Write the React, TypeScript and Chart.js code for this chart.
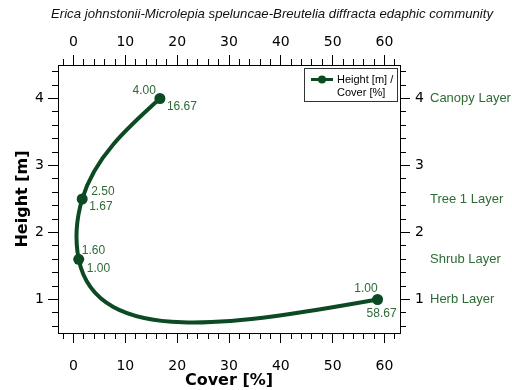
import { useEffect, useRef } from "react";
import { Chart, registerables } from "chart.js";

Chart.register(...registerables);

// ---- data ----
const TITLE =
  "Erica johnstonii-Microlepia speluncae-Breutelia diffracta edaphic community";
const SERIES_LABEL = ["Height [m] /", "Cover [%]"];
const cover = [16.67, 1.67, 1.0, 58.67];
const height = [4.0, 2.5, 1.6, 1.0];
const layers = ["Canopy Layer", "Tree 1 Layer", "Shrub Layer", "Herb Layer"];
const xTicks = [0, 10, 20, 30, 40, 50, 60];
const yTicks = [1, 2, 3, 4];

// ---- axis ranges ----
const X_MIN = -3;
const X_MAX = 63;
const Y_MIN = 0.5;
const Y_MAX = 4.5;
const X_MINOR = 2;
const Y_MINOR = 0.2;

// ---- style ----
const LINE_COLOR = "#0b4a22";
const LABEL_COLOR = "#2e6b36";
const AXIS_COLOR = "#000";
const SANS = "'DejaVu Sans', sans-serif";
const ARIAL = "'Liberation Sans', Arial, sans-serif";
const MAJOR_LEN = 10;
const MINOR_LEN = 6;

// where each point's height / cover annotation sits relative to the marker
const labelPlacement = [
  { h: { dx: -4, dy: -8, align: "right" }, c: { dx: 7, dy: 8, align: "left" } },
  { h: { dx: 9, dy: -7, align: "left" }, c: { dx: 7, dy: 8, align: "left" } },
  { h: { dx: 3, dy: -9, align: "left" }, c: { dx: 8, dy: 9, align: "left" } },
  { h: { dx: 0, dy: -11, align: "right" }, c: { dx: 4, dy: 14, align: "center" } },
];

// second derivatives of a natural cubic spline over knots with spacing h
function naturalSecondDerivs(t: number[], h: number[]): number[] {
  const n = t.length;
  const M = new Array(n).fill(0);
  if (n < 3) return M;
  const a: number[] = [];
  const b: number[] = [];
  const c: number[] = [];
  const d: number[] = [];
  for (let i = 1; i <= n - 2; i++) {
    a.push(h[i - 1]);
    b.push(2 * (h[i - 1] + h[i]));
    c.push(h[i]);
    d.push(6 * ((t[i + 1] - t[i]) / h[i] - (t[i] - t[i - 1]) / h[i - 1]));
  }
  const m = a.length;
  for (let i = 1; i < m; i++) {
    const w = a[i] / b[i - 1];
    b[i] -= w * c[i - 1];
    d[i] -= w * d[i - 1];
  }
  const sol = new Array(m);
  sol[m - 1] = d[m - 1] / b[m - 1];
  for (let i = m - 2; i >= 0; i--) sol[i] = (d[i] - c[i] * sol[i + 1]) / b[i];
  for (let i = 0; i < m; i++) M[i + 1] = sol[i];
  return M;
}

function knotDerivs(t: number[], h: number[], M: number[]): number[] {
  const n = t.length;
  const D: number[] = [];
  for (let i = 0; i < n; i++) {
    if (i < n - 1) {
      D.push((t[i + 1] - t[i]) / h[i] - (h[i] * (2 * M[i] + M[i + 1])) / 6);
    } else {
      D.push((t[i] - t[i - 1]) / h[i - 1] + (h[i - 1] * (M[i - 1] + 2 * M[i])) / 6);
    }
  }
  return D;
}

// Parametric natural spline (chord-length parameter, pixel space) written into
// the bezier control points that the line element strokes.
const naturalSpline = {
  id: "naturalSpline",
  beforeDatasetDraw(chart: any, args: any) {
    const meta = args.meta;
    const line = meta.dataset;
    const pts = meta.data;
    if (!line || !pts || pts.length < 3) return;
    if (typeof line.updateControlPoints === "function") {
      line.updateControlPoints(chart.chartArea, meta.iScale ? meta.iScale.axis : "x");
    }
    const xs = pts.map((p: any) => p.x);
    const ys = pts.map((p: any) => p.y);
    const h: number[] = [];
    for (let i = 0; i < pts.length - 1; i++) {
      h.push(Math.max(1e-6, Math.hypot(xs[i + 1] - xs[i], ys[i + 1] - ys[i])));
    }
    const Dx = knotDerivs(xs, h, naturalSecondDerivs(xs, h));
    const Dy = knotDerivs(ys, h, naturalSecondDerivs(ys, h));
    for (let i = 0; i < pts.length; i++) {
      const p = pts[i];
      const hb = i > 0 ? h[i - 1] : 0;
      const ha = i < pts.length - 1 ? h[i] : 0;
      p.cp1x = xs[i] - (Dx[i] * hb) / 3;
      p.cp1y = ys[i] - (Dy[i] * hb) / 3;
      p.cp2x = xs[i] + (Dx[i] * ha) / 3;
      p.cp2y = ys[i] + (Dy[i] * ha) / 3;
    }
  },
};

const minorTicks = {
  id: "minorTicks",
  afterDraw(chart: any) {
    const { ctx, chartArea, scales } = chart;
    const align = (v: number) => Math.floor(v) + 0.5;
    ctx.save();
    ctx.strokeStyle = AXIS_COLOR;
    ctx.lineWidth = 1;
    ctx.beginPath();
    for (let k = Math.ceil(X_MIN / X_MINOR); k * X_MINOR <= X_MAX + 1e-9; k++) {
      const v = k * X_MINOR;
      if (xTicks.some((t) => Math.abs(t - v) < 1e-6)) continue;
      const px = align(scales.x.getPixelForValue(v));
      ctx.moveTo(px, chartArea.bottom);
      ctx.lineTo(px, chartArea.bottom + MINOR_LEN);
      ctx.moveTo(px, chartArea.top);
      ctx.lineTo(px, chartArea.top - MINOR_LEN);
    }
    for (let k = Math.ceil(Y_MIN / Y_MINOR - 1e-9); k * Y_MINOR <= Y_MAX + 1e-9; k++) {
      const v = k * Y_MINOR;
      if (yTicks.some((t) => Math.abs(t - v) < 1e-6)) continue;
      const py = align(scales.y.getPixelForValue(v));
      ctx.moveTo(chartArea.left, py);
      ctx.lineTo(chartArea.left - MINOR_LEN, py);
      ctx.moveTo(chartArea.right, py);
      ctx.lineTo(chartArea.right + MINOR_LEN, py);
    }
    ctx.stroke();
    ctx.restore();
  },
};

const valueLabels = {
  id: "valueLabels",
  afterDatasetsDraw(chart: any) {
    const { ctx } = chart;
    const meta = chart.getDatasetMeta(0);
    ctx.save();
    ctx.font = `12px ${ARIAL}`;
    ctx.fillStyle = LABEL_COLOR;
    ctx.textBaseline = "middle";
    meta.data.forEach((pt: any, i: number) => {
      const place = labelPlacement[i];
      ctx.textAlign = place.h.align;
      ctx.fillText(height[i].toFixed(2), pt.x + place.h.dx, pt.y + place.h.dy);
      ctx.textAlign = place.c.align;
      ctx.fillText(cover[i].toFixed(2), pt.x + place.c.dx, pt.y + place.c.dy);
    });
    ctx.restore();
  },
};

const legendBox = {
  id: "legendBox",
  afterDraw(chart: any) {
    const { ctx, chartArea } = chart;
    const w = 93;
    const h = 33;
    const x = Math.round(chartArea.right) - 3 - w;
    const y = Math.round(chartArea.top) + 3;
    ctx.save();
    ctx.fillStyle = "#fff";
    ctx.fillRect(x, y, w, h);
    ctx.strokeStyle = "#333";
    ctx.lineWidth = 1;
    ctx.strokeRect(x + 0.5, y + 0.5, w, h);
    const ly = y + 11.5;
    ctx.strokeStyle = LINE_COLOR;
    ctx.lineWidth = 3;
    ctx.beginPath();
    ctx.moveTo(x + 7, ly);
    ctx.lineTo(x + 29, ly);
    ctx.stroke();
    ctx.fillStyle = LINE_COLOR;
    ctx.beginPath();
    ctx.arc(x + 18, ly, 4, 0, Math.PI * 2);
    ctx.fill();
    ctx.fillStyle = "#000";
    ctx.font = `11px ${ARIAL}`;
    ctx.textAlign = "left";
    ctx.textBaseline = "middle";
    SERIES_LABEL.forEach((s, i) => ctx.fillText(s, x + 33, ly + i * 13.5));
    ctx.restore();
  },
};

const titleText = {
  id: "titleText",
  afterDraw(chart: any) {
    const { ctx } = chart;
    ctx.save();
    ctx.font = `italic 13.2px ${ARIAL}`;
    ctx.fillStyle = "#111";
    ctx.textAlign = "center";
    ctx.textBaseline = "middle";
    ctx.fillText(TITLE, 272, 14);
    ctx.restore();
  },
};

const tickFont = { family: SANS, size: 14 };
const gridOpts = {
  drawOnChartArea: false,
  tickLength: MAJOR_LEN,
  color: AXIS_COLOR,
  tickColor: AXIS_COLOR,
};
const borderOpts = { color: AXIS_COLOR, width: 1 };

export default function App() {
  const ref = useRef<HTMLCanvasElement>(null);

  useEffect(() => {
    const canvas = ref.current;
    if (!canvas) return;
    const chart = new Chart(canvas, {
      type: "line",
      data: {
        datasets: [
          {
            label: SERIES_LABEL.join(" "),
            data: cover.map((c, i) => ({ x: c, y: height[i] })),
            borderColor: LINE_COLOR,
            backgroundColor: LINE_COLOR,
            borderWidth: 4,
            tension: 0.4,
            pointRadius: 5.5,
            pointHoverRadius: 5.5,
            pointBackgroundColor: LINE_COLOR,
            pointBorderWidth: 0,
            fill: false,
          },
        ],
      },
      options: {
        responsive: false,
        animation: false,
        events: [],
        layout: { padding: 0 },
        plugins: {
          legend: { display: false },
          title: { display: false },
          tooltip: { enabled: false },
        },
        scales: {
          x: {
            type: "linear",
            position: "bottom",
            min: X_MIN,
            max: X_MAX,
            afterBuildTicks: (s: any) => {
              s.ticks = xTicks.map((v) => ({ value: v }));
            },
            afterFit: (s: any) => {
              s.height = 57;
            },
            ticks: { font: tickFont, color: AXIS_COLOR, padding: 15, maxRotation: 0, autoSkip: false },
            grid: gridOpts,
            border: borderOpts,
            title: {
              display: true,
              text: "Cover [%]",
              color: AXIS_COLOR,
              font: { family: SANS, size: 16, weight: "bold" },
              padding: { top: 0, bottom: 0 },
            },
          },
          x2: {
            type: "linear",
            position: "top",
            min: X_MIN,
            max: X_MAX,
            afterBuildTicks: (s: any) => {
              s.ticks = xTicks.map((v) => ({ value: v }));
            },
            afterFit: (s: any) => {
              s.height = 65;
            },
            ticks: { font: tickFont, color: AXIS_COLOR, padding: 4, maxRotation: 0, autoSkip: false },
            grid: gridOpts,
            border: borderOpts,
          },
          y: {
            type: "linear",
            position: "left",
            min: Y_MIN,
            max: Y_MAX,
            afterBuildTicks: (s: any) => {
              s.ticks = yTicks.map((v) => ({ value: v }));
            },
            afterFit: (s: any) => {
              s.width = 58;
            },
            ticks: { font: tickFont, color: AXIS_COLOR, padding: 4, autoSkip: false },
            grid: gridOpts,
            border: borderOpts,
            title: {
              display: true,
              text: "Height [m]",
              color: AXIS_COLOR,
              font: { family: SANS, size: 16, weight: "bold" },
              padding: { top: 13, bottom: 0 },
            },
          },
          y2: {
            type: "linear",
            position: "right",
            weight: 0,
            min: Y_MIN,
            max: Y_MAX,
            afterBuildTicks: (s: any) => {
              s.ticks = yTicks.map((v) => ({ value: v }));
            },
            afterFit: (s: any) => {
              s.width = 28;
            },
            ticks: { font: tickFont, color: AXIS_COLOR, padding: 5, autoSkip: false },
            grid: gridOpts,
            border: borderOpts,
          },
          layer: {
            type: "linear",
            position: "right",
            weight: 1,
            min: Y_MIN,
            max: Y_MAX,
            afterBuildTicks: (s: any) => {
              s.ticks = height.map((v) => ({ value: v }));
            },
            afterFit: (s: any) => {
              s.width = 84;
            },
            ticks: {
              font: { family: ARIAL, size: 13 },
              color: LABEL_COLOR,
              padding: 2,
              autoSkip: false,
              callback: (v: any) => {
                const i = height.findIndex((hv) => Math.abs(hv - Number(v)) < 1e-9);
                return i >= 0 ? layers[i] : "";
              },
            },
            grid: { display: false, drawTicks: false, tickLength: 0 },
            border: { display: false },
          },
        },
      } as any,
      plugins: [naturalSpline, minorTicks, valueLabels, legendBox, titleText],
    });
    return () => chart.destroy();
  }, []);

  return (
    <div
      style={{
        position: "fixed",
        left: 0,
        top: 0,
        width: 512,
        height: 390,
        background: "#fff",
      }}
    >
      <canvas
        ref={ref}
        width={512}
        height={390}
        style={{ display: "block", width: 512, height: 390 }}
      />
    </div>
  );
}
